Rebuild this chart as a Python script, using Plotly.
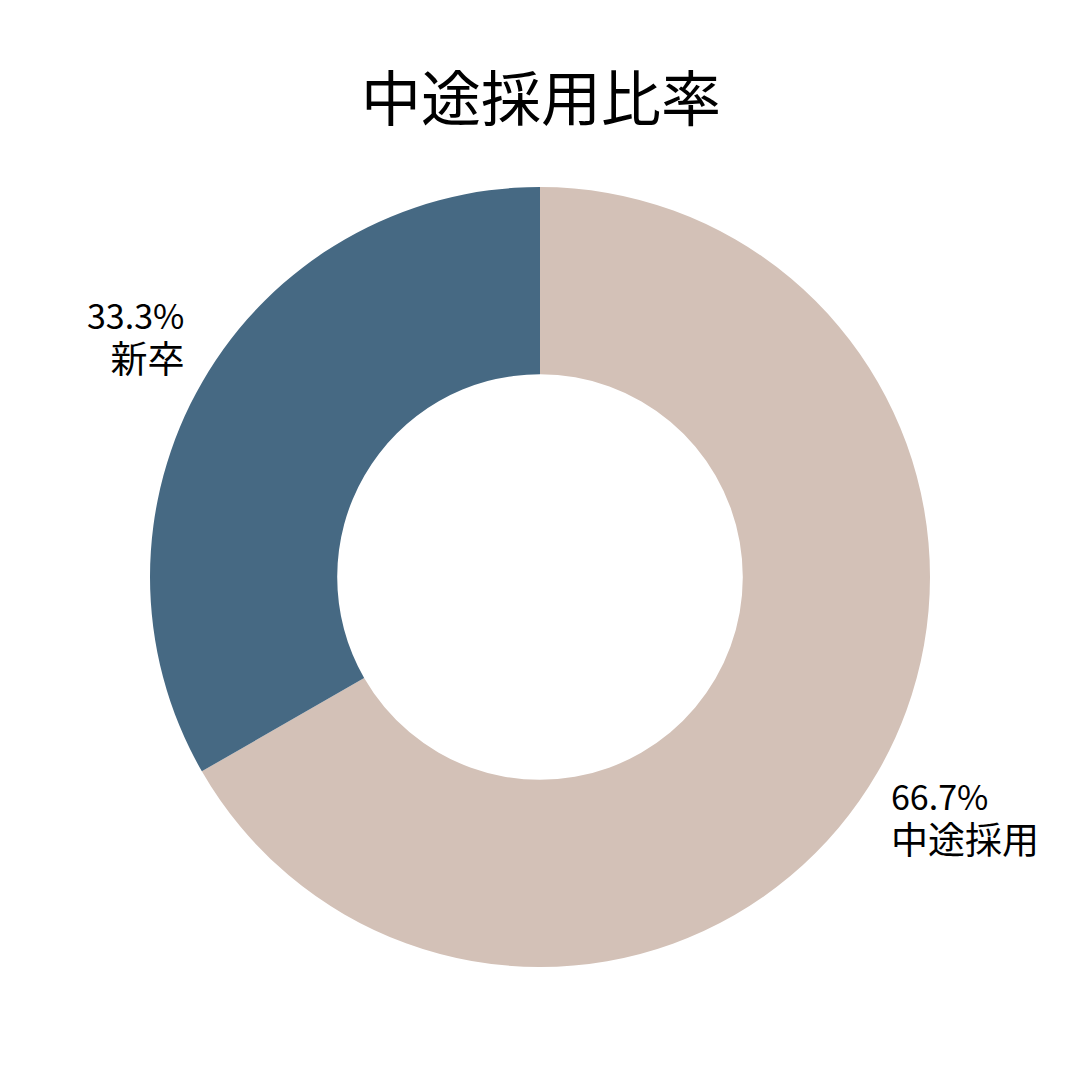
import math
import plotly.graph_objects as go

labels = ["中途採用", "新卒"]
values = [66.7, 33.3]
colors = ["#D3C1B7", "#466983"]

fig = go.Figure(go.Pie(
    labels=labels,
    values=values,
    hole=0.52,
    sort=False,
    direction="clockwise",
    rotation=0,
    marker=dict(colors=colors, line=dict(width=0)),
    textinfo="none",
    hoverinfo="label+percent",
    showlegend=False,
))

# outside labels placed at each slice's mid-angle (derived from the data)
total = sum(values)
cum = 0.0
annotations = []
for lab, val in zip(labels, values):
    frac = val / total
    mid = (cum + frac / 2) * 2 * math.pi
    cum += frac
    dx, dy = math.sin(mid), math.cos(mid)
    d = 1.05
    side = "left" if dx > 0 else "right"
    annotations.append(dict(
        x=0.5 + 0.5 * d * dx,
        y=0.5 + 0.5 * d * dy,
        xref="paper", yref="paper",
        xanchor=side,
        yanchor="bottom" if dy > 0 else "top",
        xshift=-5 if dx > 0 else 0,
        yshift=-14 if dy > 0 else 13,
        align=side,
        showarrow=False,
        text=f"<span style='font-size:34px'>{frac*100:.1f}%</span><br>"
             f"<span style='font-size:37px'>{lab}</span>",
        font=dict(size=34, color="#000000", family="Noto Sans CJK JP"),
    ))

fig.update_layout(
    width=1080, height=1080,
    margin=dict(l=142, r=158, t=179, b=121),
    paper_bgcolor="white",
    plot_bgcolor="white",
    font=dict(family="Noto Sans CJK JP", color="#000000"),
    title=dict(text="中途採用比率", x=0.4935, xanchor="center", y=0.915, yanchor="middle",
               font=dict(size=60, family="Noto Sans CJK JP", color="#000000")),
    annotations=annotations,
)

fig.write_html("out.html")
